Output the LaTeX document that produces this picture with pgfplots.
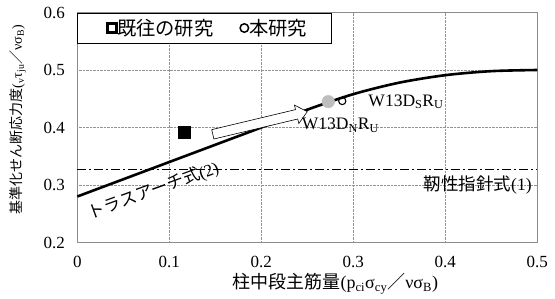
\documentclass[border=0pt]{standalone}
\usepackage{fontspec}
\setmainfont{Liberation Serif}
\newfontfamily\jp{Noto Sans CJK JP}
\usepackage{pgfplots}
\pgfplotsset{compat=1.18}
\definecolor{ptgray}{RGB}{190,190,190}
\definecolor{framegray}{RGB}{140,140,140}
\pgfplotsset{
  sqleg/.style={legend image code/.code={\path (-9.9pt,0pt); \draw[only marks, mark=square, mark size=4.5pt, line width=2.7pt, black] plot coordinates {(0cm,0cm)};}},
  ocleg/.style={legend image code/.code={\draw[only marks, mark=o, mark size=4.25pt, line width=1.5pt, black] plot coordinates {(0cm,0cm)};}},
}
\begin{document}
\begin{tikzpicture}
\begin{axis}[
  scale only axis, width=460pt, height=230pt,
  xmin=0, xmax=0.5, ymin=0.2, ymax=0.6,
  xtick={0,0.1,0.2,0.3,0.4,0.5},
  ytick={0.2,0.3,0.4,0.5,0.6},
  xticklabels={0,0.1,0.2,0.3,0.4,0.5},
  yticklabels={0.2,0.3,0.4,0.5,0.6},
  grid=major,
  major grid style={densely dotted, draw=gray!85, line width=0.6pt},
  axis line style={draw=framegray, line width=1.2pt},
  major tick length=0pt,
  tick label style={font=\fontsize{17}{17}\selectfont},
  xticklabel style={yshift=-10pt},
  yticklabel style={xshift=-9pt},
  /pgf/number format/assume math mode=true,
  xlabel={{\jp 柱中段主筋量}(p\textsubscript{ci}σ\textsubscript{cy}{\jp ／}νσ\textsubscript{B})},
  ylabel={{\jp 基準化せん断応力度}(\textsubscript{v}τ\textsubscript{ju}{\jp ／}νσ\textsubscript{B})},
  every axis x label/.style={at={(axis description cs:0.561,-0.18)}, anchor=center, font=\fontsize{18}{18}\selectfont},
  every axis y label/.style={at={(axis description cs:-0.129,0.535)}, anchor=center, rotate=90, font=\fontsize{14}{14}\selectfont},
  legend style={at={(0,1)}, anchor=north west, draw=black, line width=0.9pt,
    font=\jp\fontsize{19.3}{19.3}\selectfont,
    inner xsep=24pt, inner ysep=5.2pt,
    nodes={inner xsep=0.5pt, inner ysep=1pt},
    /tikz/every even column/.append style={column sep=26pt}},
  legend columns=2,
  clip=false,
]
% legend
\addlegendimage{sqleg}
\addlegendentry{既往の研究}
\addlegendimage{ocleg}
\addlegendentry{本研究}
% toughness guideline
\addplot[forget plot, black, line width=0.8pt, dash pattern=on 9pt off 3pt on 2pt off 3pt] coordinates {(0,0.328) (0.5,0.328)};
% truss-arch curve
\addplot[forget plot, black, line width=2.6pt, smooth] coordinates {
(0,0.28) (0.05,0.31) (0.1,0.34) (0.15,0.37) (0.2,0.40) (0.25,0.431) (0.3,0.458) (0.35,0.478) (0.4,0.491) (0.45,0.498) (0.5,0.5)};
% previous study
\addplot[forget plot, only marks, mark=square*, mark size=6pt, black] coordinates {(0.1163,0.3927)};
% this study
\addplot[forget plot, only marks, mark=*, mark size=6.3pt, draw=ptgray, fill=ptgray] coordinates {(0.2728,0.445)};
\addplot[forget plot, only marks, mark=o, mark size=3.6pt, line width=1.1pt, black, fill=white] coordinates {(0.288,0.446)};
% hollow arrow
\addplot[forget plot, draw=black, fill=white, line width=0.6pt] coordinates {
(0.1461,0.3963) (0.2372,0.4311) (0.2360,0.4390) (0.2500,0.4275) (0.2408,0.4070) (0.2396,0.4148) (0.1485,0.3800)} -- cycle;
% labels
\node[anchor=west, font=\fontsize{17.5}{17.5}\selectfont, inner sep=0pt] at (axis cs:0.3163,0.445) {W13D\textsubscript{S}R\textsubscript{U}};
\node[anchor=west, font=\fontsize{17.5}{17.5}\selectfont, inner sep=0pt] at (axis cs:0.244,0.404) {W13D\textsubscript{N}R\textsubscript{U}};
\node[rotate=20, font=\fontsize{17}{17}\selectfont, inner sep=0pt] at (axis cs:0.083,0.29) {{\jp トラスアーチ式}(2)};
\node[anchor=east, font=\fontsize{17.5}{17.5}\selectfont, inner sep=0pt] at (axis cs:0.494,0.30) {{\jp 靭性指針式}(1)};
\end{axis}
\pgfresetboundingbox
\path[use as bounding box] ([xshift=-77.3pt,yshift=-55.5pt]current axis.south west) rectangle ([xshift=17.7pt,yshift=12.5pt]current axis.north east);
\end{tikzpicture}
\end{document}
